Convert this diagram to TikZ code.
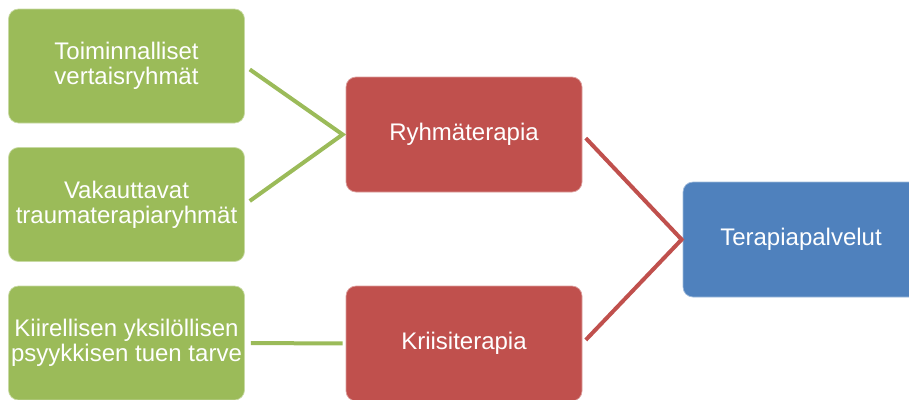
\documentclass[tikz,border=0pt]{standalone}
\usepackage{fontspec}
\setmainfont{Liberation Sans}
\definecolor{leafgreen}{HTML}{9BBB59}
\definecolor{brickred}{HTML}{C0504D}
\definecolor{steelblue}{HTML}{4F81BD}
\tikzset{
  card/.style={rounded corners=10pt, minimum width=236pt, inner sep=0pt,
    align=center, text=white, line width=0.7pt,
    font=\fontsize{24}{25}\selectfont},
  greencard/.style={card, fill=leafgreen, draw=leafgreen!55!white, minimum height=114pt},
  redcard/.style={card, fill=brickred, draw=brickred!55!white, minimum height=115pt},
  bluecard/.style={card, fill=steelblue, draw=steelblue!55!white, minimum height=115pt},
  link/.style={line width=4pt, line join=miter}
}
\begin{document}
\begin{tikzpicture}[x=1pt, y=-1pt]
  \useasboundingbox (0,0) rectangle (909,399);
  \clip (0,0) rectangle (909,399);

  % source boxes
  \node[greencard] (g1) at (126.5,66) {Toiminnalliset\\vertaisryhmät};
  \node[greencard] (g2) at (126.5,204.5) {Vakauttavat\\traumaterapiaryhmät};
  \node[greencard] (g3) at (126.5,343) {Kiirellisen yksilöllisen\\psyykkisen tuen tarve};

  % therapy forms
  \node[redcard] (r1) at (464,134.5) {Ryhmäterapia};
  \node[redcard] (r2) at (464,343.5) {Kriisiterapia};

  % target
  \node[bluecard] (b) at (801,239.5) {Terapiapalvelut};

  % junction points just in front of the target boxes
  \coordinate (j1) at ([xshift=-3pt]r1.west);
  \coordinate (j2) at ([xshift=-1pt]b.west);

  % connectors
  \draw[link, leafgreen, shorten <=6pt, shorten >=6pt] (g1.east) -- (j1) -- (g2.east);
  \draw[link, leafgreen, shorten <=6pt, shorten >=3pt] (g3.east) -- (r2.west);
  \draw[link, brickred, shorten <=5pt, shorten >=5pt] (r1.east) -- (j2) -- (r2.east);
\end{tikzpicture}
\end{document}
